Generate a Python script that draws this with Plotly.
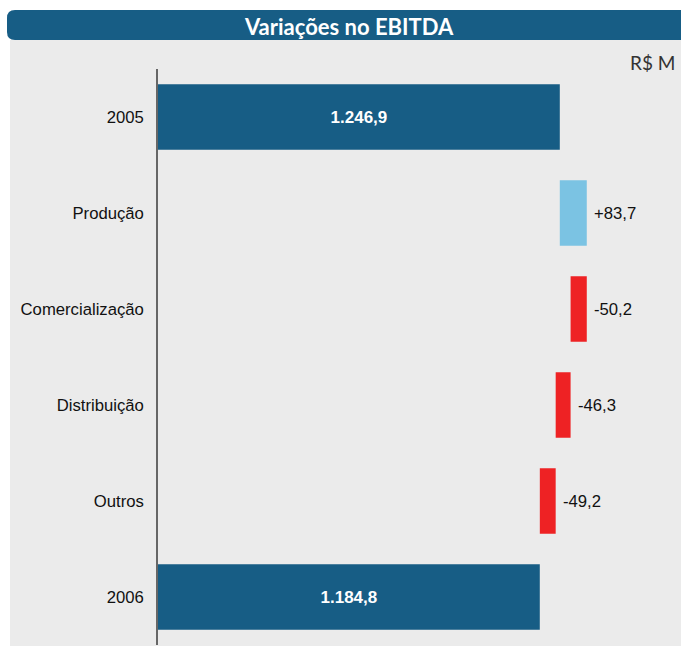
import plotly.graph_objects as go

# EBITDA bridge, R$ milhões
categories = ["2005", "Produção", "Comercialização", "Distribuição", "Outros", "2006"]
start_value = 1246.9
deltas = [83.7, -50.2, -46.3, -49.2]
end_value = 1184.8

W, H = 681, 646
DARK_BLUE = "#175d85"
LIGHT_BLUE = "#7bc3e3"
RED = "#ee2224"
PANEL = "#ebebeb"
FONT = "Liberation Sans, Arial"


def fmt_br(v, signed=False):
    s = f"{abs(v):,.1f}".replace(",", "X").replace(".", ",").replace("X", ".")
    if v < 0:
        return "-" + s
    return ("+" + s) if signed else s


# floating bars: each delta spans from the running total before to after it
bases, lengths, colors, texts, positions = [0], [start_value], [DARK_BLUE], [fmt_br(start_value)], ["inside"]
delta_labels = []
running = start_value
for cat, d in zip(categories[1:-1], deltas):
    new = running + d
    bases.append(min(running, new))
    lengths.append(abs(d))
    colors.append(LIGHT_BLUE if d >= 0 else RED)
    texts.append("")
    positions.append("none")
    delta_labels.append((cat, max(running, new), fmt_br(d, signed=True)))
    running = new
bases.append(0)
lengths.append(end_value)
colors.append(DARK_BLUE)
texts.append(fmt_br(end_value))
positions.append("inside")

fig = go.Figure(
    go.Bar(
        y=categories,
        x=lengths,
        base=bases,
        orientation="h",
        marker=dict(color=colors, line=dict(width=0)),
        text=texts,
        textposition=positions,
        insidetextanchor="middle",
        insidetextfont=dict(family=FONT, size=17, color="white", weight="bold"),
        cliponaxis=False,
        hoverinfo="skip",
    )
)


def px_x(p):
    return p / W


def px_y(p):
    return 1 - p / H


# rounded header band
r = 8
x0, x1, y0, y1 = 7, 700, 10, 40
header_path = (
    f"M {px_x(x0 + r)},{px_y(y0)} L {px_x(x1)},{px_y(y0)} L {px_x(x1)},{px_y(y1)} "
    f"L {px_x(x0 + r)},{px_y(y1)} Q {px_x(x0)},{px_y(y1)} {px_x(x0)},{px_y(y1 - r)} "
    f"L {px_x(x0)},{px_y(y0 + r)} Q {px_x(x0)},{px_y(y0)} {px_x(x0 + r)},{px_y(y0)} Z"
)

annotations = [
    dict(
        text="Variações no EBITDA", xref="paper", yref="paper",
        x=px_x(349), y=px_y(26), xanchor="center", yanchor="middle",
        showarrow=False,
        font=dict(family="Lato, Open Sans", size=22, color="white", weight="bold"),
    ),
    dict(
        text="R$ M", xref="paper", yref="paper",
        x=px_x(677), y=px_y(62), xanchor="right", yanchor="middle",
        showarrow=False,
        font=dict(family="Lato, Open Sans", size=19, color="#333333"),
    ),
]
for cat, xend, label in delta_labels:
    annotations.append(
        dict(
            text=label, x=xend, y=cat, xref="x", yref="y",
            xanchor="left", yanchor="middle", xshift=5,
            showarrow=False,
            font=dict(family=FONT, size=16.7, color="#111111"),
        )
    )

fig.update_layout(
    width=W,
    height=H,
    margin=dict(l=0, r=0, t=0, b=0),
    paper_bgcolor="white",
    plot_bgcolor="rgba(0,0,0,0)",
    bargap=0.32,
    showlegend=False,
    xaxis=dict(
        domain=[px_x(158), 1],
        range=[0, 1623],
        showgrid=False,
        zeroline=False,
        showline=False,
        showticklabels=False,
        fixedrange=True,
    ),
    yaxis=dict(
        domain=[px_y(645), px_y(69)],
        autorange="reversed",
        showgrid=False,
        zeroline=False,
        showline=True,
        linecolor="#666666",
        linewidth=1.5,
        ticks="",
        ticklabelstandoff=9,
        tickfont=dict(family=FONT, size=16.7, color="#111111"),
        fixedrange=True,
    ),
    shapes=[
        dict(
            type="rect", xref="paper", yref="paper",
            x0=px_x(10), x1=px_x(700), y0=px_y(646), y1=px_y(40),
            fillcolor=PANEL, line=dict(width=0), layer="below",
        ),
        dict(
            type="path", xref="paper", yref="paper", path=header_path,
            fillcolor=DARK_BLUE, line=dict(width=0), layer="below",
        ),
    ],
    annotations=annotations,
)

fig.write_html("out.html")
